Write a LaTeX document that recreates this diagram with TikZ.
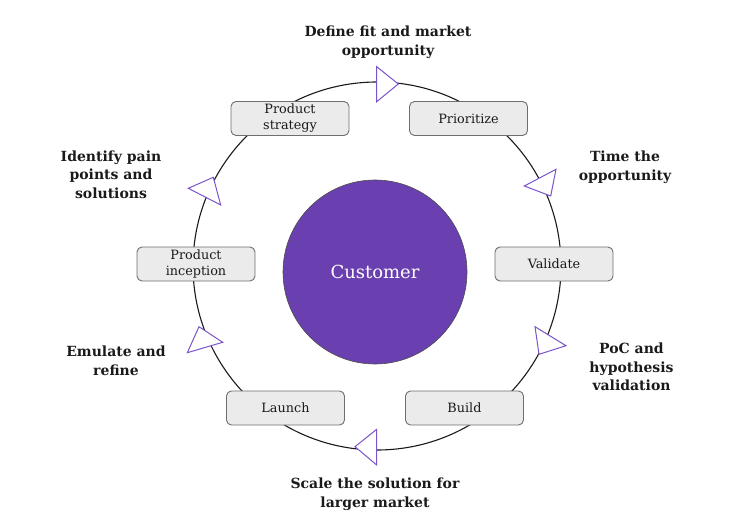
\documentclass[tikz,border=0pt]{standalone}
\usepackage{fontspec}
\setmainfont{DejaVu Serif}
\definecolor{cust}{HTML}{6A40B0}
\definecolor{tri}{HTML}{7B55C8}
\definecolor{boxfill}{HTML}{EBEBEB}
\definecolor{boxline}{HTML}{6E6E6E}
\definecolor{ink}{HTML}{1A1A1A}
\begin{document}
\begin{tikzpicture}[x=1pt,y=-1pt,
  stagebox/.style={draw=boxline,fill=boxfill,rounded corners=5pt,line width=0.9pt,
    minimum width=118pt,minimum height=34pt,inner sep=1pt,align=center,text=ink,
    font=\fontsize{12.8}{16}\selectfont},
  steplabel/.style={align=center,text=ink,font=\fontsize{14}{18.7}\selectfont\bfseries},
  arrowtri/.style={draw=tri,fill=white,line width=1pt,line join=miter}]
\useasboundingbox (0,0) rectangle (730,521);
% ring
\draw[line width=1.1pt,draw=ink] (377,266) circle[radius=184];
% centre
\node[circle,fill=cust,draw=black!70,line width=0.6pt,minimum size=184pt,inner sep=0pt,
  text=white,font=\fontsize{18}{21}\selectfont] (customer) at (375,272) {Customer};
% stage boxes
\node[stagebox] (strategy) at (290,118.5) {Product\\strategy};
\node[stagebox] (prioritize) at (468.5,118.5) {Prioritize};
\node[stagebox] (inception) at (196,264) {Product\\inception};
\node[stagebox] (validate) at (554,264) {Validate};
\node[stagebox] (launch) at (285.5,408) {Launch};
\node[stagebox] (build) at (464.5,408) {Build};
% arrow triangles
\draw[arrowtri] (376.7,66.7) -- (376.7,101.7) -- (398.3,84) -- cycle;
\draw[arrowtri] (556,169.3) -- (550.7,196) -- (524.3,186) -- cycle;
\draw[arrowtri] (535,326.7) -- (539,354.3) -- (566,345.7) -- cycle;
\draw[arrowtri] (376.7,429.3) -- (376.7,465) -- (355,446.7) -- cycle;
\draw[arrowtri] (199,326.7) -- (187.3,352.7) -- (222.7,342.3) -- cycle;
\draw[arrowtri] (213.3,177.3) -- (220.7,205) -- (188.3,188.3) -- cycle;
% labels
\node[steplabel] (l1) at (388,42) {Define fit and market\\opportunity};
\node[steplabel] (l2) at (625,167.5) {Time the\\opportunity};
\node[steplabel] (l3) at (631.5,367) {PoC and\\hypothesis\\validation};
\node[steplabel] (l4) at (375,494) {Scale the solution for\\larger market};
\node[steplabel] (l5) at (116,361) {Emulate and\\refine};
\node[steplabel] (l6) at (111,174.5) {Identify pain\\points and\\solutions};
\end{tikzpicture}
\end{document}
